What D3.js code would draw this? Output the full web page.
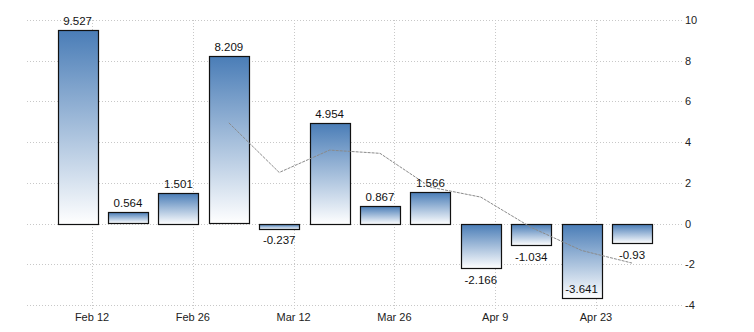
<!DOCTYPE html>
<html>
<head>
<meta charset="utf-8">
<script src="https://cdn.jsdelivr.net/npm/d3@7"></script>
<style>
	body { margin: 0; background: #fff; }
	svg { display: block; font-family: "Liberation Sans", Arial, sans-serif; }
</style>
</head>
<body>
<svg width="754" height="332"></svg>
<script>
// weekly values, one bar per week
const weeks = ["2021-02-10", "2021-02-17", "2021-02-24", "2021-03-03", "2021-03-10", "2021-03-17",
	"2021-03-24", "2021-03-31", "2021-04-07", "2021-04-14", "2021-04-21", "2021-04-28"];
const values = [9.527, 0.564, 1.501, 8.209, -0.237, 4.954, 0.867, 1.566, -2.166, -1.034, -3.641, -0.93];
// grey trend line (starts at the 4th week)
const trendWeeks = weeks.slice(3);
const trend = [4.95, 2.51, 3.61, 3.45, 1.79, 1.3, -0.19, -1.32, -1.94];
const xTicks = ["2021-02-12", "2021-02-26", "2021-03-12", "2021-03-26", "2021-04-09", "2021-04-23"];
const yTicks = [-4, -2, 0, 2, 4, 6, 8, 10];

const parse = d3.utcParse("%Y-%m-%d");
const svg = d3.select("svg");

const plotLeft = 27, plotRight = 683, plotTop = 20, plotBottom = 305;
const barW = 40;

const x = d3.scaleUtc()
	.domain([parse("2021-02-12"), parse("2021-04-23")])
	.range([92, 596]);
const y = d3.scaleLinear().domain([-4, 10]).range([plotBottom, plotTop]);

const defs = svg.append("defs");
const grad = defs.append("linearGradient")
	.attr("id", "barGrad")
	.attr("x1", 0).attr("y1", 0)
	.attr("x2", 0).attr("y2", 1);
grad.append("stop").attr("offset", "0%").attr("stop-color", "#4a7db7");
grad.append("stop").attr("offset", "100%").attr("stop-color", "#ffffff");

// horizontal grid + right labels
const yAxis = svg.append("g");
yAxis.selectAll("line")
	.data(yTicks)
	.join("line")
	.attr("x1", plotLeft)
	.attr("x2", plotRight)
	.attr("y1", (d) => Math.round(y(d)) + 0.5)
	.attr("y2", (d) => Math.round(y(d)) + 0.5)
	.attr("stroke", "#c8c8c8")
	.attr("stroke-dasharray", "1,2");
yAxis.selectAll("text")
	.data(yTicks)
	.join("text")
	.attr("x", plotRight + 2)
	.attr("y", (d) => y(d) + 4)
	.attr("font-size", "11px")
	.attr("fill", "#222")
	.text((d) => d);

// vertical grid + bottom labels
const xAxis = svg.append("g");
xAxis.selectAll("line")
	.data(xTicks)
	.join("line")
	.attr("x1", (d) => Math.round(x(parse(d))) + 0.5)
	.attr("x2", (d) => Math.round(x(parse(d))) + 0.5)
	.attr("y1", plotTop)
	.attr("y2", plotBottom + 5)
	.attr("stroke", "#c8c8c8")
	.attr("stroke-dasharray", "1,2");
xAxis.selectAll("text")
	.data(xTicks)
	.join("text")
	.attr("x", (d) => x(parse(d)))
	.attr("y", 321)
	.attr("text-anchor", "middle")
	.attr("font-size", "11px")
	.attr("fill", "#222")
	.text((d) => d3.utcFormat("%b %-d")(parse(d)));

// bars
const data = weeks.map((w, i) => ({ date: parse(w), value: values[i] }));
svg.append("g")
	.selectAll("rect")
	.data(data)
	.join("rect")
	.attr("x", (d) => Math.round(x(d.date) - barW / 2) + 0.5)
	.attr("y", (d) => Math.round(y(Math.max(0, d.value))) + 0.5)
	.attr("width", barW)
	.attr("height", (d) => Math.round(Math.abs(y(d.value) - y(0))))
	.attr("fill", "url(#barGrad)")
	.attr("stroke", "#111")
	.attr("stroke-width", 1.2);

// trend line
const line = d3.line()
	.x((d) => x(d.date))
	.y((d) => y(d.value));
svg.append("path")
	.datum(trendWeeks.map((w, i) => ({ date: parse(w), value: trend[i] })))
	.attr("d", line)
	.attr("fill", "none")
	.attr("stroke", "#8a8a8a")
	.attr("stroke-width", 1)
	.attr("stroke-dasharray", "3,1");

// value labels
svg.append("g")
	.selectAll("text")
	.data(data)
	.join("text")
	.attr("x", (d) => x(d.date))
	.attr("y", (d) => {
		if (d.value >= 0) return y(d.value) - 5;
		let yy = y(d.value) + 16;
		// no room under the bar: put it inside
		if (yy > plotBottom) yy = y(d.value) - 5;
		return yy;
	})
	.attr("text-anchor", "middle")
	.attr("font-size", "11.5px")
	.attr("fill", "#111")
	.text((d) => d.value);
</script>
</body>
</html>
